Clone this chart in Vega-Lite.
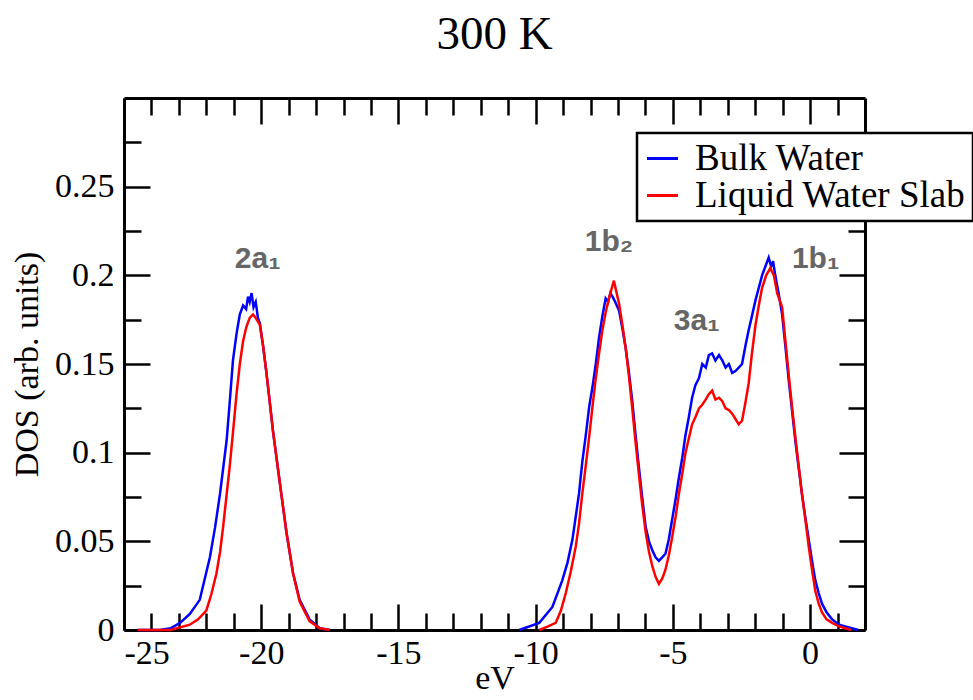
{
  "$schema": "https://vega.github.io/schema/vega-lite/v6.json",
  "width": 741,
  "height": 532,
  "autosize": {"type": "none"},
  "padding": {"left": 124, "top": 98, "right": 108, "bottom": 70},
  "background": "white",
  "title": {"text": "300 K", "font": "Liberation Serif", "fontSize": 47, "fontWeight": "normal", "color": "black", "baseline": "alphabetic", "frame": "group", "offset": 1},
  "config": {
    "view": {"stroke": null},
    "axis": {"grid": false, "domainColor": "black", "domainWidth": 3, "tickColor": "black", "tickWidth": 2.5,
      "labelFont": "Liberation Serif", "labelFontSize": 34, "labelColor": "black",
      "titleFont": "Liberation Serif", "titleFontSize": 34, "titleFontWeight": "normal", "titleColor": "black"}
  },
  "datasets": {
    "curves": [
      {"series":"Bulk Water","part":1,"x":-24.5,"y":0},
      {"series":"Bulk Water","part":1,"x":-23.7,"y":0},
      {"series":"Bulk Water","part":1,"x":-23.3,"y":0.001},
      {"series":"Bulk Water","part":1,"x":-22.96,"y":0.004},
      {"series":"Bulk Water","part":1,"x":-22.6,"y":0.009},
      {"series":"Bulk Water","part":1,"x":-22.24,"y":0.017},
      {"series":"Bulk Water","part":1,"x":-21.87,"y":0.041},
      {"series":"Bulk Water","part":1,"x":-21.68,"y":0.058},
      {"series":"Bulk Water","part":1,"x":-21.5,"y":0.077},
      {"series":"Bulk Water","part":1,"x":-21.26,"y":0.107},
      {"series":"Bulk Water","part":1,"x":-21.15,"y":0.128},
      {"series":"Bulk Water","part":1,"x":-21.03,"y":0.152},
      {"series":"Bulk Water","part":1,"x":-20.9,"y":0.167},
      {"series":"Bulk Water","part":1,"x":-20.78,"y":0.178},
      {"series":"Bulk Water","part":1,"x":-20.66,"y":0.183},
      {"series":"Bulk Water","part":1,"x":-20.55,"y":0.181},
      {"series":"Bulk Water","part":1,"x":-20.48,"y":0.188},
      {"series":"Bulk Water","part":1,"x":-20.42,"y":0.185},
      {"series":"Bulk Water","part":1,"x":-20.35,"y":0.19},
      {"series":"Bulk Water","part":1,"x":-20.28,"y":0.182},
      {"series":"Bulk Water","part":1,"x":-20.2,"y":0.185},
      {"series":"Bulk Water","part":1,"x":-20.12,"y":0.176},
      {"series":"Bulk Water","part":1,"x":-20.05,"y":0.173},
      {"series":"Bulk Water","part":1,"x":-19.93,"y":0.16},
      {"series":"Bulk Water","part":1,"x":-19.81,"y":0.145},
      {"series":"Bulk Water","part":1,"x":-19.7,"y":0.13},
      {"series":"Bulk Water","part":1,"x":-19.57,"y":0.112},
      {"series":"Bulk Water","part":1,"x":-19.33,"y":0.084},
      {"series":"Bulk Water","part":1,"x":-19.08,"y":0.055},
      {"series":"Bulk Water","part":1,"x":-18.84,"y":0.032},
      {"series":"Bulk Water","part":1,"x":-18.6,"y":0.017},
      {"series":"Bulk Water","part":1,"x":-18.24,"y":0.006},
      {"series":"Bulk Water","part":1,"x":-17.87,"y":0.001},
      {"series":"Bulk Water","part":1,"x":-17.5,"y":0},
      {"series":"Bulk Water","part":2,"x":-10.6,"y":0},
      {"series":"Bulk Water","part":2,"x":-9.87,"y":0.004},
      {"series":"Bulk Water","part":2,"x":-9.39,"y":0.013},
      {"series":"Bulk Water","part":2,"x":-9.03,"y":0.028},
      {"series":"Bulk Water","part":2,"x":-8.84,"y":0.038},
      {"series":"Bulk Water","part":2,"x":-8.66,"y":0.051},
      {"series":"Bulk Water","part":2,"x":-8.42,"y":0.077},
      {"series":"Bulk Water","part":2,"x":-8.3,"y":0.095},
      {"series":"Bulk Water","part":2,"x":-8.18,"y":0.109},
      {"series":"Bulk Water","part":2,"x":-8.05,"y":0.126},
      {"series":"Bulk Water","part":2,"x":-7.93,"y":0.137},
      {"series":"Bulk Water","part":2,"x":-7.81,"y":0.15},
      {"series":"Bulk Water","part":2,"x":-7.69,"y":0.165},
      {"series":"Bulk Water","part":2,"x":-7.57,"y":0.177},
      {"series":"Bulk Water","part":2,"x":-7.45,"y":0.187},
      {"series":"Bulk Water","part":2,"x":-7.36,"y":0.185},
      {"series":"Bulk Water","part":2,"x":-7.28,"y":0.19},
      {"series":"Bulk Water","part":2,"x":-7.2,"y":0.188},
      {"series":"Bulk Water","part":2,"x":-7.1,"y":0.185},
      {"series":"Bulk Water","part":2,"x":-6.96,"y":0.18},
      {"series":"Bulk Water","part":2,"x":-6.84,"y":0.17},
      {"series":"Bulk Water","part":2,"x":-6.72,"y":0.159},
      {"series":"Bulk Water","part":2,"x":-6.6,"y":0.145},
      {"series":"Bulk Water","part":2,"x":-6.48,"y":0.129},
      {"series":"Bulk Water","part":2,"x":-6.36,"y":0.11},
      {"series":"Bulk Water","part":2,"x":-6.24,"y":0.092},
      {"series":"Bulk Water","part":2,"x":-6.12,"y":0.075},
      {"series":"Bulk Water","part":2,"x":-5.99,"y":0.058},
      {"series":"Bulk Water","part":2,"x":-5.87,"y":0.05},
      {"series":"Bulk Water","part":2,"x":-5.75,"y":0.045},
      {"series":"Bulk Water","part":2,"x":-5.63,"y":0.041},
      {"series":"Bulk Water","part":2,"x":-5.51,"y":0.039},
      {"series":"Bulk Water","part":2,"x":-5.39,"y":0.041},
      {"series":"Bulk Water","part":2,"x":-5.27,"y":0.043},
      {"series":"Bulk Water","part":2,"x":-5.15,"y":0.051},
      {"series":"Bulk Water","part":2,"x":-5.03,"y":0.062},
      {"series":"Bulk Water","part":2,"x":-4.9,"y":0.074},
      {"series":"Bulk Water","part":2,"x":-4.78,"y":0.086},
      {"series":"Bulk Water","part":2,"x":-4.66,"y":0.097},
      {"series":"Bulk Water","part":2,"x":-4.54,"y":0.11},
      {"series":"Bulk Water","part":2,"x":-4.42,"y":0.12},
      {"series":"Bulk Water","part":2,"x":-4.3,"y":0.131},
      {"series":"Bulk Water","part":2,"x":-4.18,"y":0.138},
      {"series":"Bulk Water","part":2,"x":-4.05,"y":0.142},
      {"series":"Bulk Water","part":2,"x":-3.93,"y":0.15},
      {"series":"Bulk Water","part":2,"x":-3.8,"y":0.148},
      {"series":"Bulk Water","part":2,"x":-3.69,"y":0.155},
      {"series":"Bulk Water","part":2,"x":-3.57,"y":0.156},
      {"series":"Bulk Water","part":2,"x":-3.45,"y":0.152},
      {"series":"Bulk Water","part":2,"x":-3.32,"y":0.155},
      {"series":"Bulk Water","part":2,"x":-3.2,"y":0.152},
      {"series":"Bulk Water","part":2,"x":-3.08,"y":0.148},
      {"series":"Bulk Water","part":2,"x":-2.96,"y":0.15},
      {"series":"Bulk Water","part":2,"x":-2.84,"y":0.145},
      {"series":"Bulk Water","part":2,"x":-2.72,"y":0.146},
      {"series":"Bulk Water","part":2,"x":-2.6,"y":0.148},
      {"series":"Bulk Water","part":2,"x":-2.48,"y":0.15},
      {"series":"Bulk Water","part":2,"x":-2.36,"y":0.16},
      {"series":"Bulk Water","part":2,"x":-2.24,"y":0.169},
      {"series":"Bulk Water","part":2,"x":-2.12,"y":0.177},
      {"series":"Bulk Water","part":2,"x":-1.99,"y":0.186},
      {"series":"Bulk Water","part":2,"x":-1.87,"y":0.193},
      {"series":"Bulk Water","part":2,"x":-1.75,"y":0.2},
      {"series":"Bulk Water","part":2,"x":-1.63,"y":0.205},
      {"series":"Bulk Water","part":2,"x":-1.51,"y":0.21},
      {"series":"Bulk Water","part":2,"x":-1.42,"y":0.205},
      {"series":"Bulk Water","part":2,"x":-1.35,"y":0.208},
      {"series":"Bulk Water","part":2,"x":-1.27,"y":0.2},
      {"series":"Bulk Water","part":2,"x":-1.15,"y":0.19},
      {"series":"Bulk Water","part":2,"x":-1.02,"y":0.178},
      {"series":"Bulk Water","part":2,"x":-0.9,"y":0.16},
      {"series":"Bulk Water","part":2,"x":-0.78,"y":0.141},
      {"series":"Bulk Water","part":2,"x":-0.66,"y":0.124},
      {"series":"Bulk Water","part":2,"x":-0.54,"y":0.107},
      {"series":"Bulk Water","part":2,"x":-0.42,"y":0.092},
      {"series":"Bulk Water","part":2,"x":-0.3,"y":0.077},
      {"series":"Bulk Water","part":2,"x":-0.17,"y":0.063},
      {"series":"Bulk Water","part":2,"x":-0.05,"y":0.051},
      {"series":"Bulk Water","part":2,"x":0.07,"y":0.039},
      {"series":"Bulk Water","part":2,"x":0.19,"y":0.028},
      {"series":"Bulk Water","part":2,"x":0.31,"y":0.021},
      {"series":"Bulk Water","part":2,"x":0.43,"y":0.015},
      {"series":"Bulk Water","part":2,"x":0.6,"y":0.01},
      {"series":"Bulk Water","part":2,"x":0.8,"y":0.006},
      {"series":"Bulk Water","part":2,"x":1.05,"y":0.003},
      {"series":"Bulk Water","part":2,"x":1.28,"y":0.002},
      {"series":"Bulk Water","part":2,"x":1.76,"y":0},
      {"series":"Liquid Water Slab","part":1,"x":-24.5,"y":0},
      {"series":"Liquid Water Slab","part":1,"x":-23.3,"y":0},
      {"series":"Liquid Water Slab","part":1,"x":-22.6,"y":0.003},
      {"series":"Liquid Water Slab","part":1,"x":-22.3,"y":0.006},
      {"series":"Liquid Water Slab","part":1,"x":-22.0,"y":0.011},
      {"series":"Liquid Water Slab","part":1,"x":-21.82,"y":0.02},
      {"series":"Liquid Water Slab","part":1,"x":-21.63,"y":0.032},
      {"series":"Liquid Water Slab","part":1,"x":-21.5,"y":0.044},
      {"series":"Liquid Water Slab","part":1,"x":-21.39,"y":0.058},
      {"series":"Liquid Water Slab","part":1,"x":-21.27,"y":0.075},
      {"series":"Liquid Water Slab","part":1,"x":-21.15,"y":0.092},
      {"series":"Liquid Water Slab","part":1,"x":-21.02,"y":0.113},
      {"series":"Liquid Water Slab","part":1,"x":-20.9,"y":0.133},
      {"series":"Liquid Water Slab","part":1,"x":-20.78,"y":0.15},
      {"series":"Liquid Water Slab","part":1,"x":-20.66,"y":0.163},
      {"series":"Liquid Water Slab","part":1,"x":-20.54,"y":0.171},
      {"series":"Liquid Water Slab","part":1,"x":-20.42,"y":0.176},
      {"series":"Liquid Water Slab","part":1,"x":-20.3,"y":0.178},
      {"series":"Liquid Water Slab","part":1,"x":-20.2,"y":0.176},
      {"series":"Liquid Water Slab","part":1,"x":-20.05,"y":0.172},
      {"series":"Liquid Water Slab","part":1,"x":-19.93,"y":0.16},
      {"series":"Liquid Water Slab","part":1,"x":-19.81,"y":0.145},
      {"series":"Liquid Water Slab","part":1,"x":-19.7,"y":0.13},
      {"series":"Liquid Water Slab","part":1,"x":-19.57,"y":0.112},
      {"series":"Liquid Water Slab","part":1,"x":-19.33,"y":0.084},
      {"series":"Liquid Water Slab","part":1,"x":-19.08,"y":0.055},
      {"series":"Liquid Water Slab","part":1,"x":-18.84,"y":0.032},
      {"series":"Liquid Water Slab","part":1,"x":-18.6,"y":0.016},
      {"series":"Liquid Water Slab","part":1,"x":-18.24,"y":0.005},
      {"series":"Liquid Water Slab","part":1,"x":-17.87,"y":0.001},
      {"series":"Liquid Water Slab","part":1,"x":-17.5,"y":0},
      {"series":"Liquid Water Slab","part":2,"x":-9.87,"y":0},
      {"series":"Liquid Water Slab","part":2,"x":-9.55,"y":0.002},
      {"series":"Liquid Water Slab","part":2,"x":-9.27,"y":0.004},
      {"series":"Liquid Water Slab","part":2,"x":-9.08,"y":0.011},
      {"series":"Liquid Water Slab","part":2,"x":-8.9,"y":0.021},
      {"series":"Liquid Water Slab","part":2,"x":-8.72,"y":0.033},
      {"series":"Liquid Water Slab","part":2,"x":-8.54,"y":0.047},
      {"series":"Liquid Water Slab","part":2,"x":-8.42,"y":0.06},
      {"series":"Liquid Water Slab","part":2,"x":-8.3,"y":0.077},
      {"series":"Liquid Water Slab","part":2,"x":-8.18,"y":0.092},
      {"series":"Liquid Water Slab","part":2,"x":-8.05,"y":0.109},
      {"series":"Liquid Water Slab","part":2,"x":-7.93,"y":0.126},
      {"series":"Liquid Water Slab","part":2,"x":-7.81,"y":0.142},
      {"series":"Liquid Water Slab","part":2,"x":-7.69,"y":0.156},
      {"series":"Liquid Water Slab","part":2,"x":-7.57,"y":0.169},
      {"series":"Liquid Water Slab","part":2,"x":-7.45,"y":0.179},
      {"series":"Liquid Water Slab","part":2,"x":-7.33,"y":0.187},
      {"series":"Liquid Water Slab","part":2,"x":-7.24,"y":0.192},
      {"series":"Liquid Water Slab","part":2,"x":-7.15,"y":0.197},
      {"series":"Liquid Water Slab","part":2,"x":-7.05,"y":0.19},
      {"series":"Liquid Water Slab","part":2,"x":-6.96,"y":0.184},
      {"series":"Liquid Water Slab","part":2,"x":-6.84,"y":0.172},
      {"series":"Liquid Water Slab","part":2,"x":-6.72,"y":0.159},
      {"series":"Liquid Water Slab","part":2,"x":-6.6,"y":0.143},
      {"series":"Liquid Water Slab","part":2,"x":-6.48,"y":0.125},
      {"series":"Liquid Water Slab","part":2,"x":-6.36,"y":0.106},
      {"series":"Liquid Water Slab","part":2,"x":-6.24,"y":0.088},
      {"series":"Liquid Water Slab","part":2,"x":-6.12,"y":0.071},
      {"series":"Liquid Water Slab","part":2,"x":-5.99,"y":0.055},
      {"series":"Liquid Water Slab","part":2,"x":-5.87,"y":0.044},
      {"series":"Liquid Water Slab","part":2,"x":-5.75,"y":0.036},
      {"series":"Liquid Water Slab","part":2,"x":-5.63,"y":0.03},
      {"series":"Liquid Water Slab","part":2,"x":-5.51,"y":0.026},
      {"series":"Liquid Water Slab","part":2,"x":-5.39,"y":0.029},
      {"series":"Liquid Water Slab","part":2,"x":-5.27,"y":0.034},
      {"series":"Liquid Water Slab","part":2,"x":-5.15,"y":0.042},
      {"series":"Liquid Water Slab","part":2,"x":-5.03,"y":0.052},
      {"series":"Liquid Water Slab","part":2,"x":-4.9,"y":0.064},
      {"series":"Liquid Water Slab","part":2,"x":-4.78,"y":0.077},
      {"series":"Liquid Water Slab","part":2,"x":-4.66,"y":0.088},
      {"series":"Liquid Water Slab","part":2,"x":-4.54,"y":0.1},
      {"series":"Liquid Water Slab","part":2,"x":-4.42,"y":0.108},
      {"series":"Liquid Water Slab","part":2,"x":-4.3,"y":0.116},
      {"series":"Liquid Water Slab","part":2,"x":-4.18,"y":0.12},
      {"series":"Liquid Water Slab","part":2,"x":-4.05,"y":0.125},
      {"series":"Liquid Water Slab","part":2,"x":-3.93,"y":0.127},
      {"series":"Liquid Water Slab","part":2,"x":-3.8,"y":0.13},
      {"series":"Liquid Water Slab","part":2,"x":-3.69,"y":0.133},
      {"series":"Liquid Water Slab","part":2,"x":-3.57,"y":0.135},
      {"series":"Liquid Water Slab","part":2,"x":-3.45,"y":0.13},
      {"series":"Liquid Water Slab","part":2,"x":-3.32,"y":0.131},
      {"series":"Liquid Water Slab","part":2,"x":-3.2,"y":0.129},
      {"series":"Liquid Water Slab","part":2,"x":-3.08,"y":0.125},
      {"series":"Liquid Water Slab","part":2,"x":-2.96,"y":0.124},
      {"series":"Liquid Water Slab","part":2,"x":-2.84,"y":0.122},
      {"series":"Liquid Water Slab","part":2,"x":-2.72,"y":0.119},
      {"series":"Liquid Water Slab","part":2,"x":-2.6,"y":0.116},
      {"series":"Liquid Water Slab","part":2,"x":-2.48,"y":0.118},
      {"series":"Liquid Water Slab","part":2,"x":-2.36,"y":0.128},
      {"series":"Liquid Water Slab","part":2,"x":-2.24,"y":0.139},
      {"series":"Liquid Water Slab","part":2,"x":-2.12,"y":0.156},
      {"series":"Liquid Water Slab","part":2,"x":-1.99,"y":0.172},
      {"series":"Liquid Water Slab","part":2,"x":-1.87,"y":0.183},
      {"series":"Liquid Water Slab","part":2,"x":-1.75,"y":0.193},
      {"series":"Liquid Water Slab","part":2,"x":-1.6,"y":0.2},
      {"series":"Liquid Water Slab","part":2,"x":-1.45,"y":0.204},
      {"series":"Liquid Water Slab","part":2,"x":-1.32,"y":0.2},
      {"series":"Liquid Water Slab","part":2,"x":-1.2,"y":0.19},
      {"series":"Liquid Water Slab","part":2,"x":-1.02,"y":0.182},
      {"series":"Liquid Water Slab","part":2,"x":-0.9,"y":0.163},
      {"series":"Liquid Water Slab","part":2,"x":-0.78,"y":0.144},
      {"series":"Liquid Water Slab","part":2,"x":-0.66,"y":0.126},
      {"series":"Liquid Water Slab","part":2,"x":-0.54,"y":0.109},
      {"series":"Liquid Water Slab","part":2,"x":-0.42,"y":0.093},
      {"series":"Liquid Water Slab","part":2,"x":-0.3,"y":0.077},
      {"series":"Liquid Water Slab","part":2,"x":-0.17,"y":0.062},
      {"series":"Liquid Water Slab","part":2,"x":-0.05,"y":0.047},
      {"series":"Liquid Water Slab","part":2,"x":0.07,"y":0.034},
      {"series":"Liquid Water Slab","part":2,"x":0.19,"y":0.022},
      {"series":"Liquid Water Slab","part":2,"x":0.31,"y":0.015},
      {"series":"Liquid Water Slab","part":2,"x":0.43,"y":0.01},
      {"series":"Liquid Water Slab","part":2,"x":0.6,"y":0.006},
      {"series":"Liquid Water Slab","part":2,"x":0.8,"y":0.004},
      {"series":"Liquid Water Slab","part":2,"x":1.05,"y":0.002},
      {"series":"Liquid Water Slab","part":2,"x":1.28,"y":0.001},
      {"series":"Liquid Water Slab","part":2,"x":1.5,"y":0}
    ],
    "labels": [
      {"label": "2a₁", "x": -20.13, "y": 0.209},
      {"label": "1b₂", "x": -7.33, "y": 0.219},
      {"label": "3a₁", "x": -4.13, "y": 0.174},
      {"label": "1b₁", "x": 0.2, "y": 0.209}
    ]
  },
  "resolve": {"axis": {"x": "independent", "y": "independent"}},
  "layer": [
    {
      "data": {"name": "curves"},
      "mark": {"type": "point", "opacity": 0},
      "encoding": {
        "x": {"field": "x", "type": "quantitative", "scale": {"domain": [-25, 2], "nice": false, "zero": false},
          "axis": {"orient": "top", "labels": false, "title": null, "values": [-25,-24,-23,-22,-21,-20,-19,-18,-17,-16,-15,-14,-13,-12,-11,-10,-9,-8,-7,-6,-5,-4,-3,-2,-1,0,1],
            "tickSize": {"condition": {"test": "datum.value % 5 === 0", "value": -26}, "value": -17}}},
        "y": {"field": "y", "type": "quantitative", "scale": {"domain": [0, 0.3], "nice": false, "zero": true},
          "axis": {"orient": "right", "labels": false, "title": null, "values": [0,0.025,0.05,0.075,0.1,0.125,0.15,0.175,0.2,0.225,0.25,0.275],
            "tickSize": {"condition": {"test": "round(datum.value*1000) % 50 === 0", "value": -26}, "value": -17}}}
      }
    },
    {
      "data": {"name": "curves"},
      "mark": {"type": "line", "strokeWidth": 2.5, "interpolate": "linear"},
      "encoding": {
        "x": {"field": "x", "type": "quantitative",
          "axis": {"orient": "bottom", "title": "eV", "titlePadding": -9, "labelPadding": 32,
            "values": [-25,-24,-23,-22,-21,-20,-19,-18,-17,-16,-15,-14,-13,-12,-11,-10,-9,-8,-7,-6,-5,-4,-3,-2,-1,0,1],
            "labelExpr": "datum.value % 5 === 0 ? ('' + datum.value) : ''",
            "tickSize": {"condition": {"test": "datum.value % 5 === 0", "value": -26}, "value": -17}}},
        "y": {"field": "y", "type": "quantitative",
          "axis": {"orient": "left", "title": "DOS (arb. units)", "titlePadding": 10, "labelPadding": 36,
            "values": [0,0.025,0.05,0.075,0.1,0.125,0.15,0.175,0.2,0.225,0.25,0.275],
            "labelExpr": "round(datum.value*1000) % 50 === 0 ? ('' + datum.value) : ''",
            "tickSize": {"condition": {"test": "round(datum.value*1000) % 50 === 0", "value": -26}, "value": -17}}},
        "color": {"field": "series", "type": "nominal",
          "scale": {"domain": ["Bulk Water", "Liquid Water Slab"], "range": ["#0000ff", "#ff0000"]},
          "legend": {"title": null, "orient": "none", "legendX": 513, "legendY": 35,
            "symbolType": "stroke", "symbolSize": 961, "symbolStrokeWidth": 3,
            "labelFont": "Liberation Serif", "labelFontSize": 37, "labelColor": "black", "labelOffset": 14,
            "labelLimit": 400, "rowPadding": -5, "padding": 7, "strokeColor": "black", "fillColor": "white",
            "encode": {"legend": {"update": {"strokeWidth": {"value": 2.5}}}}}},
        "detail": {"field": "part", "type": "nominal"}
      }
    },
    {
      "data": {"name": "labels"},
      "mark": {"type": "text", "font": "Liberation Sans", "fontWeight": "bold", "fontSize": 30, "color": "#666666", "align": "center", "baseline": "middle"},
      "encoding": {
        "x": {"field": "x", "type": "quantitative", "axis": null},
        "y": {"field": "y", "type": "quantitative", "axis": null},
        "text": {"field": "label"}
      }
    }
  ]
}
